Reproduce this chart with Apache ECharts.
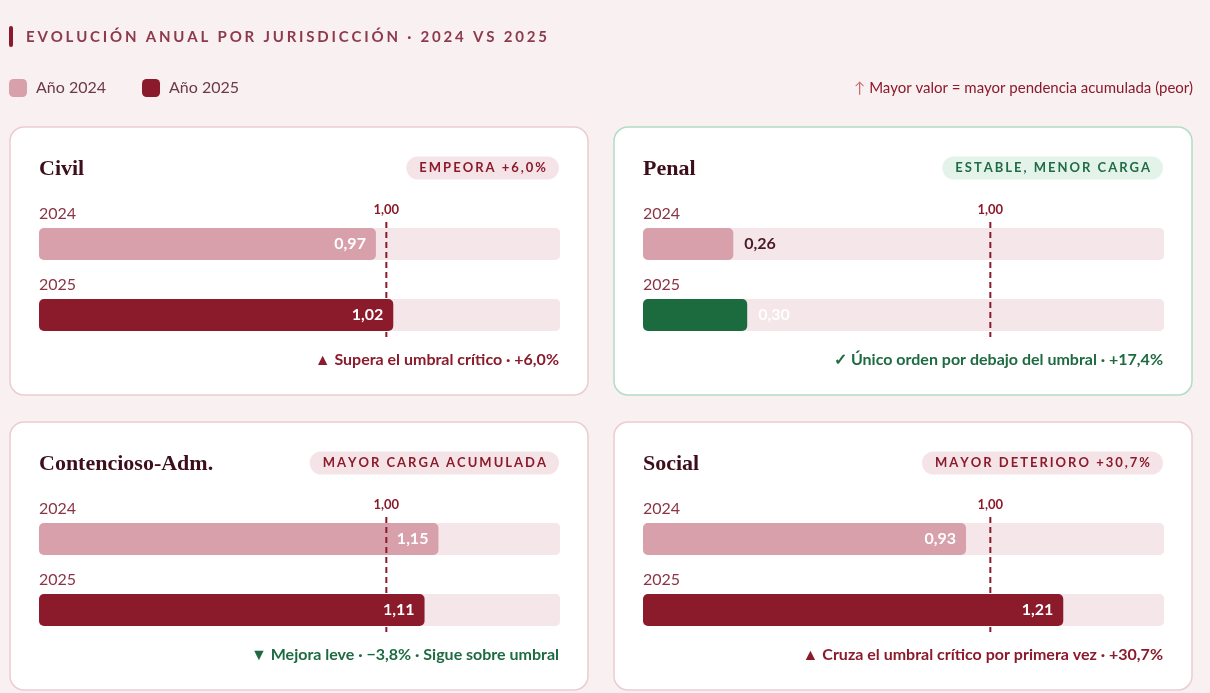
<!DOCTYPE html>
<html><head><meta charset="utf-8">
<script src="https://cdn.jsdelivr.net/npm/echarts@6/dist/echarts.min.js"></script>
<style>html,body{margin:0;padding:0;background:#f9f0f1;}#c{width:1210px;height:693px;}</style>
</head><body><div id="c"></div>
<script>
// ---- data ----
const JURIS = ['Civil', 'Penal', 'Contencioso-Adm.', 'Social'];
const YEARS = ['2024', '2025'];
const SERIES_NAMES = ['Año 2024', 'Año 2025'];
const V2024 = [0.97, 0.26, 1.15, 0.93];
const V2025 = [1.02, 0.30, 1.11, 1.21];
const THRESHOLD = 1.00;
const X_MAX = 1.5;
const BADGES = ['EMPEORA +6,0%', 'ESTABLE, MENOR CARGA', 'MAYOR CARGA ACUMULADA', 'MAYOR DETERIORO +30,7%'];
const NOTES = ['▲ Supera el umbral crítico · +6,0%', '✓ Único orden por debajo del umbral · +17,4%', '▼ Mejora leve · −3,8% · Sigue sobre umbral', '▲ Cruza el umbral crítico por primera vez · +30,7%'];
const BADGE_TONE = ['red', 'green', 'red', 'red'];
const NOTE_TONE = ['red', 'green', 'green', 'red'];
const CARD_TONE = ['red', 'green', 'red', 'red'];
const TITLE = 'EVOLUCIÓN ANUAL POR JURISDICCIÓN · 2024 VS 2025';
const NOTE_RIGHT = 'Mayor valor = mayor pendencia acumulada (peor)';

// ---- style ----
const C2024 = '#d8a0aa', C2025 = '#8b1a2b', GREEN = '#1c6b3e', TRACK = '#f5e6e9';
const RED_TXT = '#8b1a2b', GREEN_TXT = '#1e6b42';
const CARD_X = [10, 614], CARD_Y = [127, 422], CARD_W = 578, CARD_H = 268, PAD = 29;

const fmt = v => Number(v).toFixed(2).replace('.', ',');
const spaced = (s, key) => s.split('').map(c => '{' + key + '|' + c + '}').join('');

const chart = echarts.init(document.getElementById('c'));
const grids = [], xAxes = [], yAxes = [], series = [], graphics = [];

graphics.push({type: 'rect', shape: {x: 9, y: 26, width: 4, height: 21, r: 2}, style: {fill: '#8b1a2b'}});
graphics.push({type: 'text', x: 26, y: 37, style: {
  text: spaced(TITLE, 's'), verticalAlign: 'middle', align: 'left',
  rich: {s: {fontFamily: 'Lato', fontWeight: 'bold', fontSize: 15, fill: '#8d3a4c', padding: [0, 2.8, 0, 0]}}
}});
graphics.push({type: 'text', x: 1193, y: 88, style: {
  text: '{a|↑ }{b|' + NOTE_RIGHT + '}', align: 'right', verticalAlign: 'middle',
  rich: {a: {fontFamily: 'Lato', fontSize: 15, fill: '#c96a6a'}, b: {fontFamily: 'Lato', fontSize: 15, fill: RED_TXT}}
}});

JURIS.forEach((name, i) => {
  const cx = CARD_X[i % 2], cy = CARD_Y[Math.floor(i / 2)];
  const right = cx + CARD_W - PAD;
  graphics.push({type: 'rect', z: -10, shape: {x: cx, y: cy, width: CARD_W, height: CARD_H, r: 14},
    style: {fill: '#ffffff', stroke: CARD_TONE[i] === 'green' ? '#b3dcc4' : '#ecccd2', lineWidth: 1.5}});
  graphics.push({type: 'text', x: cx + PAD, y: cy + 42, style: {text: name, fontFamily: 'Liberation Serif', fontWeight: 'bold', fontSize: 22, fill: '#3d0f1b', verticalAlign: 'middle'}});
  const bg = BADGE_TONE[i] === 'green';
  graphics.push({type: 'text', x: right, y: cy + 41, style: {
    text: spaced(BADGES[i], 'b'), align: 'right', verticalAlign: 'middle',
    backgroundColor: bg ? '#e4f3ea' : '#f5e4e7', borderRadius: 12, padding: [5, 11, 5, 13],
    rich: {b: {fontFamily: 'Lato', fontWeight: 'bold', fontSize: 13, fill: bg ? '#1f6b44' : RED_TXT, padding: [0, 2, 0, 0]}}
  }});
  graphics.push({type: 'text', x: right, y: cy + 233, style: {text: NOTES[i], align: 'right', verticalAlign: 'middle',
    fontFamily: 'Lato', fontWeight: 'bold', fontSize: 16, fill: NOTE_TONE[i] === 'green' ? GREEN_TXT : RED_TXT}});

  grids.push({left: cx + PAD, top: cy + 81.5, width: right - (cx + PAD) + 1, height: 142});
  xAxes.push({type: 'value', gridIndex: i, min: 0, max: X_MAX, show: false});
  yAxes.push({type: 'category', gridIndex: i, data: YEARS, inverse: true,
    axisLine: {show: false}, axisTick: {show: false}, splitLine: {show: false},
    axisLabel: {inside: true, margin: 0, verticalAlign: 'bottom', padding: [0, 0, 22, 0], fontFamily: 'Lato', fontSize: 16, color: '#8a3445'}});

  const lab = (v, yearIdx) => {
    const small = v < 0.4;
    return {show: true, position: small ? 'right' : 'insideRight', distance: small ? 11 : 10,
      formatter: p => fmt(p.value), fontFamily: 'Lato', fontWeight: 'bold', fontSize: 16,
      color: small && yearIdx === 0 ? '#4a1a25' : '#ffffff'};
  };
  const common = {type: 'bar', xAxisIndex: i, yAxisIndex: i, barWidth: 32, barGap: '-100%',
    showBackground: true, backgroundStyle: {color: TRACK, borderRadius: 5}};
  series.push(Object.assign({}, common, {name: SERIES_NAMES[0], itemStyle: {color: C2024, borderRadius: 5},
    data: [{value: V2024[i], label: lab(V2024[i], 0)}, '-']}));
  series.push(Object.assign({}, common, {name: SERIES_NAMES[1], itemStyle: {color: C2025, borderRadius: 5},
    data: ['-', {value: V2025[i], label: lab(V2025[i], 1), itemStyle: i === 1 ? {color: GREEN, borderRadius: 5} : undefined}]}));
  series.push({type: 'custom', xAxisIndex: i, yAxisIndex: i, z: 10, silent: true,
    data: [[THRESHOLD, 0]], encode: {x: 0, y: 1},
    renderItem: (params, api) => {
      const x = api.coord([api.value(0), 0])[0];
      const yTop = api.coord([0, 0])[1];
      const yBot = api.coord([0, 1])[1];
      return {type: 'group', children: [
        {type: 'line', shape: {x1: x, y1: yTop - 22, x2: x, y2: yBot + 22}, style: {stroke: '#8b1a2b', lineWidth: 2, lineDash: [6, 4]}},
        {type: 'text', x: x, y: yTop - 34, style: {text: fmt(api.value(0)), fill: '#8b1a2b', fontFamily: 'Lato', fontWeight: 'bold', fontSize: 13, align: 'center', verticalAlign: 'middle'}}
      ]};
    }});
});

chart.setOption({
  backgroundColor: '#f9f0f1',
  animation: false,
  legend: {data: SERIES_NAMES, left: 9, top: 79, padding: 0, itemWidth: 18, itemHeight: 18, itemGap: 36,
    icon: 'roundRect', selectedMode: false,
    textStyle: {fontFamily: 'Lato', fontSize: 16, color: '#6b3a45', padding: [0, 0, 0, 4]}},
  grid: grids, xAxis: xAxes, yAxis: yAxes, series: series, graphic: graphics
});
</script></body></html>
